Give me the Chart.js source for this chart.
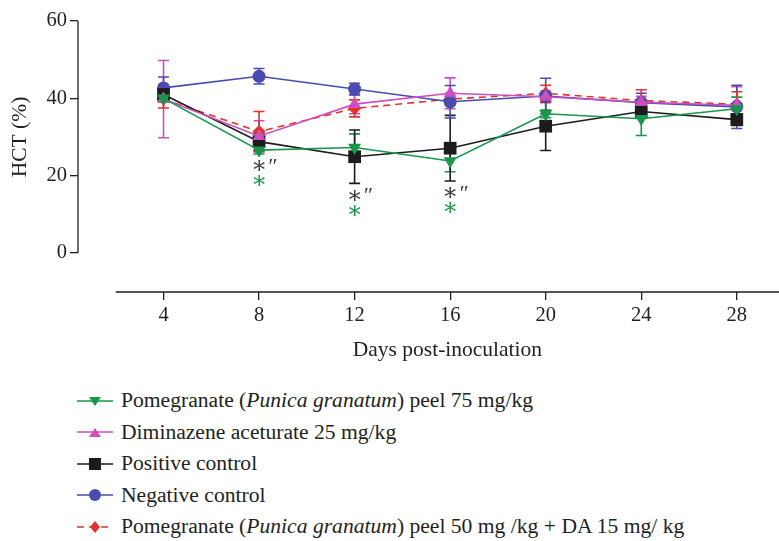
<!DOCTYPE html>
<html>
<head>
<meta charset="utf-8">
<script src="https://cdn.jsdelivr.net/npm/chart.js@4.4.0/dist/chart.umd.min.js"></script>
<style>
    body { margin: 0; background: #fff; width: 779px; height: 541px; position: relative; overflow: hidden; font-family: 'Liberation Serif', 'DejaVu Serif', serif; color: #231f20; }
    #wrap { position: absolute; left: 0; top: 0; width: 779px; height: 370px; }
    #legend { position: absolute; left: 77px; top: 385px; }
    .legend-item { display: flex; align-items: center; height: 31.5px; font-size: 21.6px; white-space: nowrap; }
    .legend-item svg { margin-right: 8px; }
</style>
</head>
<body>
<div id="wrap"><canvas id="hctChart"></canvas></div>
<div id="legend"></div>
<script>
const days = [4, 8, 12, 16, 20, 24, 28];
const xTicks = [4, 8, 12, 16, 20, 24, 28];
const yTicks = [0, 20, 40, 60];

const pomegranate75 = [40.0, 26.6, 27.3, 23.8, 36.0, 34.7, 37.3];
const pomegranate75Err = [1.0, 1.0, 3.5, 2.8, 1.0, 4.3, 3.0];
const diminazene = [39.8, 30.2, 38.5, 41.3, 40.4, 39.0, 38.2];
const diminazeneErr = [10.0, 4.0, 2.5, 4.0, 1.5, 1.5, 4.8];
const positiveControl = [41.0, 28.8, 24.9, 27.1, 32.8, 36.6, 34.5];
const positiveControlErr = [1.5, 2.2, 6.9, 8.5, 6.3, 1.2, 1.5];
const negativeControl = [42.7, 45.7, 42.4, 39.1, 40.6, 38.9, 37.8];
const negativeControlErr = [2.8, 2.0, 1.5, 4.2, 4.6, 2.4, 5.6];
const combination = [39.8, 31.4, 37.4, 39.8, 41.3, 39.4, 38.5];
const combinationErr = [2.3, 5.2, 2.2, 1.5, 2.1, 2.8, 3.2];

// significance marks under these days
const sigDays = [8, 12, 16];

const seriesLabels = [
    'Pomegranate (<i>Punica granatum</i>) peel 75 mg/kg',
    'Diminazene aceturate 25 mg/kg',
    'Positive control',
    'Negative control',
    'Pomegranate (<i>Punica granatum</i>) peel 50 mg /kg + DA 15 mg/ kg'
];

const colors = {
    green: '#18964a',
    magenta: '#cc4fbf',
    black: '#1c1c1c',
    blue: '#4a4bb0',
    red: '#e3332b',
    axis: '#231f20'
};
const fontFamily = "'Liberation Serif', 'DejaVu Serif', serif";

function toPoints(values) {
    return values.map((v, i) => ({ x: days[i], y: v }));
}

const datasets = [
    { label: 'p75', data: toPoints(pomegranate75), errors: pomegranate75Err, borderColor: colors.green, backgroundColor: colors.green, pointStyle: 'triangle', rotation: 180, pointRadius: 7.5 },
    { label: 'da', data: toPoints(diminazene), errors: diminazeneErr, borderColor: colors.magenta, backgroundColor: colors.magenta, pointStyle: 'triangle', pointRadius: 7.5 },
    { label: 'pos', data: toPoints(positiveControl), errors: positiveControlErr, borderColor: colors.black, backgroundColor: colors.black, pointStyle: 'rect', pointRadius: 9 },
    { label: 'neg', data: toPoints(negativeControl), errors: negativeControlErr, borderColor: colors.blue, backgroundColor: colors.blue, pointStyle: 'circle', pointRadius: 6.5 },
    { label: 'combo', data: toPoints(combination), errors: combinationErr, borderColor: colors.red, backgroundColor: colors.red, pointStyle: 'rectRot', pointRadius: 6.5, borderDash: [7, 5] }
].map((ds) => Object.assign({ borderWidth: 1.6, pointBorderWidth: 0, tension: 0, fill: false }, ds));

const errorBars = {
    id: 'errorBars',
    beforeDatasetsDraw(chart) {
        const { ctx, scales: { x, y } } = chart;
        chart.data.datasets.forEach((ds) => {
            ctx.save();
            ctx.strokeStyle = ds.borderColor;
            ctx.lineWidth = 1.6;
            ds.data.forEach((pt, j) => {
                const e = ds.errors[j];
                const px = x.getPixelForValue(pt.x);
                const top = y.getPixelForValue(pt.y + e);
                const bot = y.getPixelForValue(pt.y - e);
                ctx.beginPath();
                ctx.moveTo(px, top); ctx.lineTo(px, bot);
                ctx.moveTo(px - 5.5, top); ctx.lineTo(px + 5.5, top);
                ctx.moveTo(px - 5.5, bot); ctx.lineTo(px + 5.5, bot);
                ctx.stroke();
            });
            ctx.restore();
        });
    }
};

const axesAndText = {
    id: 'axesAndText',
    afterDraw(chart) {
        const { ctx, chartArea, scales: { x, y } } = chart;
        ctx.save();
        ctx.strokeStyle = colors.axis;
        ctx.lineWidth = 1.3;
        ctx.beginPath();
        ctx.moveTo(chartArea.left, y.getPixelForValue(0));
        ctx.lineTo(chartArea.left, y.getPixelForValue(60));
        ctx.moveTo(x.getPixelForValue(2), chartArea.bottom);
        ctx.lineTo(chart.width, chartArea.bottom);
        ctx.stroke();

        ctx.fillStyle = colors.axis;
        ctx.font = `21.5px ${fontFamily}`;
        ctx.textAlign = 'center';
        ctx.textBaseline = 'middle';
        ctx.fillText('Days post-inoculation', (x.getPixelForValue(2) + chart.width) / 2, chartArea.bottom + 58);

        ctx.save();
        ctx.translate(20, (y.getPixelForValue(0) + y.getPixelForValue(60)) / 2);
        ctx.rotate(-Math.PI / 2);
        ctx.fillText('HCT (%)', 0, 0);
        ctx.restore();

        // significance marks below the lowest error bar of each day
        sigDays.forEach((d) => {
            const j = days.indexOf(d);
            let low = Infinity;
            chart.data.datasets.forEach((ds) => { low = Math.min(low, ds.data[j].y - ds.errors[j]); });
            const px = x.getPixelForValue(d);
            const py = y.getPixelForValue(low);
            ctx.font = `24px ${fontFamily}`;
            ctx.textAlign = 'center';
            ctx.fillStyle = '#3a3a3a';
            ctx.fillText('\u2217', px, py + 13);
            ctx.font = `italic 22px ${fontFamily}`;
            ctx.textAlign = 'left';
            ctx.fillText('\u2033', px + 8, py + 13);
            ctx.font = `24px ${fontFamily}`;
            ctx.textAlign = 'center';
            ctx.fillStyle = colors.green;
            ctx.fillText('\u2217', px, py + 28);
        });
        ctx.restore();
    }
};

new Chart(document.getElementById('hctChart').getContext('2d'), {
    type: 'line',
    data: { datasets },
    options: {
        responsive: true,
        maintainAspectRatio: false,
        animation: false,
        layout: { padding: { top: 21, left: 0, right: 0, bottom: 0 } },
        plugins: { legend: { display: false }, tooltip: { enabled: false } },
        scales: {
            x: {
                type: 'linear',
                min: 0.42,
                max: 29.39,
                afterBuildTicks: (scale) => { scale.ticks = xTicks.map((v) => ({ value: v })); },
                afterFit: (scale) => { scale.height = 78; },
                grid: { display: true, drawOnChartArea: false, drawTicks: true, tickLength: 8, color: colors.axis, lineWidth: 1.3 },
                border: { display: false },
                ticks: { color: colors.axis, font: { family: fontFamily, size: 20.5 }, padding: 3, maxRotation: 0 }
            },
            y: {
                min: -10.09,
                max: 60,
                afterBuildTicks: (scale) => { scale.ticks = yTicks.map((v) => ({ value: v })); },
                afterFit: (scale) => { scale.width = 78; },
                grid: { display: true, drawOnChartArea: false, drawTicks: true, tickLength: 8, color: colors.axis, lineWidth: 1.3 },
                border: { display: false },
                ticks: { color: colors.axis, font: { family: fontFamily, size: 20.5 }, padding: 3 }
            }
        }
    },
    plugins: [errorBars, axesAndText]
});

function markerSvg(ds) {
    const c = ds.borderColor;
    const dash = ds.borderDash ? ` stroke-dasharray="${ds.borderDash.join(' ')}"` : '';
    let marker = '';
    if (ds.pointStyle === 'triangle' && ds.rotation === 180) marker = `<polygon points="12,6 24,6 18,15" fill="${c}"/>`;
    else if (ds.pointStyle === 'triangle') marker = `<polygon points="12,15 24,15 18,6" fill="${c}"/>`;
    else if (ds.pointStyle === 'rect') marker = `<rect x="12" y="4" width="12" height="12" fill="${c}"/>`;
    else if (ds.pointStyle === 'circle') marker = `<circle cx="18" cy="10" r="6" fill="${c}"/>`;
    else marker = `<polygon points="18,4 23,10 18,16 13,10" fill="${c}"/>`;
    return `<svg width="36" height="20" viewBox="0 0 36 20"><line x1="0" y1="10" x2="36" y2="10" stroke="${c}" stroke-width="1.6"${dash}/>${marker}</svg>`;
}

function generateLegend(containerId, labels, sets) {
    const legendContainer = document.getElementById(containerId);
    legendContainer.innerHTML = '';
    labels.forEach((label, index) => {
        const item = document.createElement('div');
        item.className = 'legend-item';
        item.innerHTML = `${markerSvg(sets[index])}<span>${label}</span>`;
        legendContainer.appendChild(item);
    });
}

generateLegend('legend', seriesLabels, datasets);
</script>
</body>
</html>
